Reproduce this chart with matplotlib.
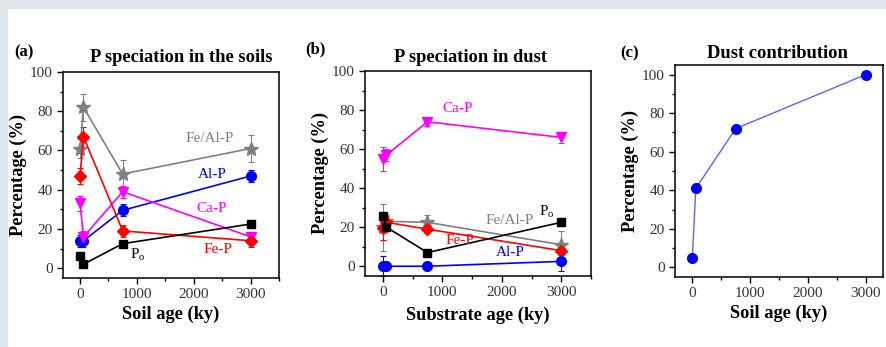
import numpy as np
import matplotlib
matplotlib.use("Agg")
import matplotlib.pyplot as plt
from matplotlib.ticker import MultipleLocator

plt.rcParams["font.family"] = ["Liberation Serif", "DejaVu Serif"]
plt.rcParams["mathtext.fontset"] = "stix"

# =========================
# DATA
# =========================
ages = [0, 60, 750, 3000]

# (a) P speciation in the soils
soil_feal = [61, 82, 48, 61]
soil_feal_err = [5, 7, 7, 7]
soil_al = [14, 14, 29.5, 47]
soil_al_err = [3, 3, 3, 3]
soil_ca = [33, 16, 39, 16]
soil_ca_err = [4, 3, 3, 2]
soil_fe = [47, 67, 19, 14]
soil_fe_err = [4, 5, 3, 3]
soil_po = [6, 2, 12.5, 22.5]
soil_po_err = [1, 1, 1, 1]

# (b) P speciation in dust
dust_ca = [55, 57, 74, 66]
dust_ca_err = [6, 3, 2, 3]
dust_feal = [20, 23, 22.5, 11]
dust_feal_err = [12, 3, 4, 7]
dust_fe = [19.5, 22.5, 19, 8]
dust_fe_err = [6, 3, 2, 2]
dust_po = [25.5, 20, 7, 22.5]
dust_po_err = [2, 2, 1, 2]
dust_al = [0, 0, 0, 2.5]
dust_al_err = [5, 0, 0, 5]

# (c) Dust contribution
dust_contrib = [5, 41, 72, 100]

BG = "#dde4ea"
TICK_COL = "#333333"
LABEL_FS = 13.2
TITLE_FS = 13.3

fig = plt.figure(figsize=(8.86, 3.47), dpi=100)
fig.patch.set_facecolor("white")
# light frame strips (top and left)
fig.add_artist(plt.Rectangle((0, 1 - 9 / 347), 1, 9 / 347, transform=fig.transFigure,
                             color=BG, lw=0, zorder=0))
fig.add_artist(plt.Rectangle((0, 0), 8 / 886, 1, transform=fig.transFigure,
                             color=BG, lw=0, zorder=0))

ax_a = fig.add_axes([63 / 886, 1 - 278 / 347, 216 / 886, 206 / 347])
ax_b = fig.add_axes([365 / 886, 1 - 276 / 347, 226 / 886, 205 / 347])
ax_c = fig.add_axes([675 / 886, 1 - 277 / 347, 208 / 886, 212 / 347])


def style_axes(ax, ylim, xlim):
    ax.set_xlim(*xlim)
    ax.set_ylim(*ylim)
    ax.xaxis.set_major_locator(MultipleLocator(1000))
    ax.xaxis.set_minor_locator(MultipleLocator(500))
    ax.yaxis.set_major_locator(MultipleLocator(20))
    ax.yaxis.set_minor_locator(MultipleLocator(10))
    ax.tick_params(which="both", direction="out", top=False, right=False,
                   labelsize=11, labelcolor=TICK_COL, width=1)
    ax.tick_params(which="major", length=4)
    ax.tick_params(which="minor", length=2.5)
    for s in ax.spines.values():
        s.set_linewidth(1.1)
    ax.set_ylabel("Percentage (%)", fontsize=LABEL_FS, fontweight="bold", labelpad=2)


def series(ax, y, err, color, marker, ms):
    ax.errorbar(ages, y, yerr=err, color=color, marker=marker, ms=ms,
                lw=1.2, elinewidth=0.8, capsize=2, capthick=0.8,
                mec=color, mfc=color)


# =========================
# (a)
# =========================
series(ax_a, soil_feal, soil_feal_err, "#808080", "*", 10)
series(ax_a, soil_al, soil_al_err, "#0000ff", "o", 7)
series(ax_a, soil_ca, soil_ca_err, "#ff00ff", "v", 7.5)
series(ax_a, soil_fe, soil_fe_err, "#ff0000", "D", 6)
series(ax_a, soil_po, soil_po_err, "black", "s", 6)
style_axes(ax_a, (-5, 100), (-300, 3500))
ax_a.set_xlabel("Soil age (ky)", fontsize=LABEL_FS, fontweight="bold", labelpad=3)
ax_a.text(2280, 66, "Fe/Al-P", color="#808080", fontsize=11, ha="center", va="center")
ax_a.text(2330, 47.5, "Al-P", color="#0000ff", fontsize=11, ha="center", va="center")
ax_a.text(2310, 30.5, "Ca-P", color="#ff00ff", fontsize=11, ha="center", va="center")
ax_a.text(2420, 9.7, "Fe-P", color="#ff0000", fontsize=11, ha="center", va="center")
ax_a.text(1020, 6.5, r"P$_\mathregular{o}$", color="black", fontsize=11, ha="center", va="center")
fig.text(14 / 886, 1 - 52 / 347, "(a)", fontsize=12, fontweight="bold", va="center")
fig.text(181 / 886, 1 - 57 / 347, "P speciation in the soils", fontsize=TITLE_FS,
         fontweight="bold", ha="center", va="center")

# =========================
# (b)
# =========================
series(ax_b, dust_ca, dust_ca_err, "#ff00ff", "v", 7.5)
series(ax_b, dust_feal, dust_feal_err, "#808080", "*", 10)
series(ax_b, dust_fe, dust_fe_err, "#ff0000", "D", 6)
series(ax_b, dust_po, dust_po_err, "black", "s", 6)
series(ax_b, dust_al, dust_al_err, "#0000ff", "o", 7)
style_axes(ax_b, (-5, 100), (-300, 3500))
ax_b.set_xlabel("Substrate age (ky)", fontsize=LABEL_FS, fontweight="bold", labelpad=5)
ax_b.text(1250, 81, "Ca-P", color="#ff00ff", fontsize=11, ha="center", va="center")
ax_b.text(2125, 23.5, "Fe/Al-P", color="#808080", fontsize=11, ha="center", va="center")
ax_b.text(2765, 28, r"P$_\mathregular{o}$", color="black", fontsize=11, ha="center", va="center")
ax_b.text(1300, 13.3, "Fe-P", color="#ff0000", fontsize=11, ha="center", va="center")
ax_b.text(2140, 7, "Al-P", color="#0000ff", fontsize=11, ha="center", va="center")
fig.text(305 / 886, 1 - 49 / 347, "(b)", fontsize=12, fontweight="bold", va="center")
fig.text(470 / 886, 1 - 58 / 347, "P speciation in dust", fontsize=TITLE_FS,
         fontweight="bold", ha="center", va="center")

# =========================
# (c)
# =========================
ax_c.plot(ages, dust_contrib, color="#6060ff", lw=1, marker="o", ms=7,
          mfc="#0000ff", mec="#0000ff")
style_axes(ax_c, (-5, 105), (-300, 3300))
ax_c.set_xlabel("Soil age (ky)", fontsize=LABEL_FS, fontweight="bold", labelpad=3)
fig.text(620 / 886, 1 - 53 / 347, "(c)", fontsize=12, fontweight="bold", va="center")
fig.text(777 / 886, 1 - 54 / 347, "Dust contribution", fontsize=TITLE_FS,
         fontweight="bold", ha="center", va="center")

fig.savefig("out.png", dpi=100)
